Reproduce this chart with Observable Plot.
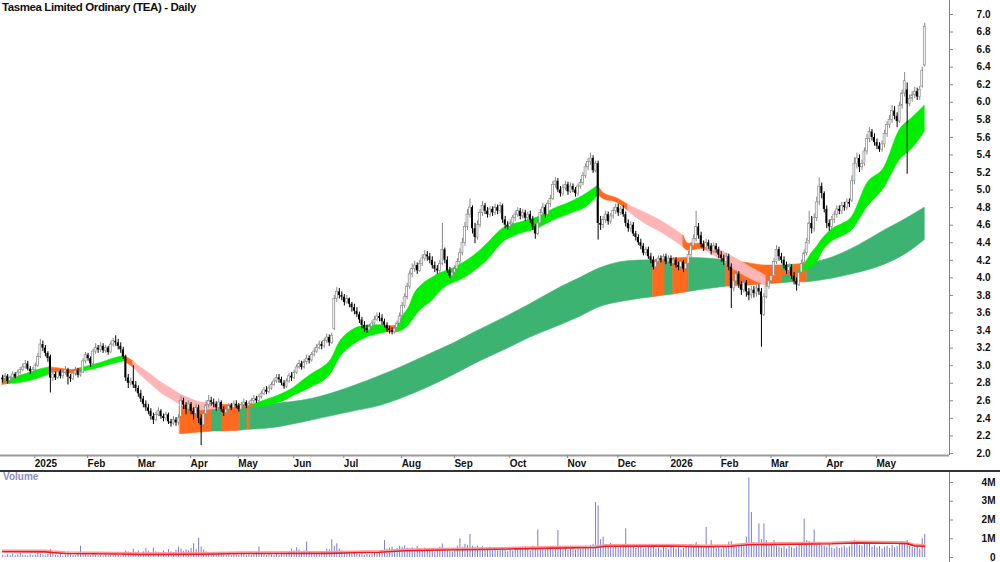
<!DOCTYPE html>
<html><head><meta charset="utf-8">
<script src="https://cdn.jsdelivr.net/npm/d3@7"></script>
<script src="https://cdn.jsdelivr.net/npm/@observablehq/plot@0.6"></script>
<style>
body{margin:0;background:#fff;}
#wrap{position:relative;width:1000px;height:562px;overflow:hidden;background:#fff;font-family:"Liberation Sans",Arial,sans-serif;}
#title{position:absolute;left:2px;top:1px;font-weight:bold;font-size:11.5px;letter-spacing:-0.4px;color:#111;}
#vlabel{position:absolute;left:3px;top:471px;font-weight:bold;font-size:10px;color:#8c8cc8;}
#price svg,#vol svg{display:block;}
#vol{border-top:2px solid #333;}
</style></head>
<body>
<div id="wrap"><div id="price"></div><div id="vol"></div>
<div id="title">Tasmea Limited Ordinary (TEA) - Daily</div><div id="vlabel">Volume</div></div>
<script>
// ---- Daily candles (index = trading day) ----
const opens = [
2.86,2.84,2.88,2.82,2.86,2.90,2.87,2.92,2.95,2.98,
3.02,2.96,2.93,2.95,3.00,3.10,3.24,3.20,3.14,3.10,
2.86,2.90,2.86,2.93,2.88,2.92,2.95,2.87,2.85,2.91,
2.94,2.89,2.92,3.05,3.12,3.08,3.02,3.16,3.20,3.18,
3.22,3.17,3.20,3.15,3.24,3.28,3.26,3.22,3.18,3.10,
2.86,2.80,2.82,2.78,2.74,2.68,2.62,2.56,2.52,2.48,
2.42,2.38,2.44,2.48,2.42,2.40,2.44,2.36,2.34,2.38,
2.35,2.42,2.60,2.55,2.50,2.56,2.48,2.44,2.52,2.40,
2.32,2.45,2.55,2.60,2.58,2.56,2.52,2.58,2.50,2.46,
2.50,2.54,2.52,2.56,2.54,2.50,2.55,2.58,2.54,2.56,
2.60,2.62,2.60,2.64,2.68,2.72,2.70,2.74,2.78,2.82,
2.86,2.84,2.80,2.76,2.82,2.88,2.86,2.92,2.98,3.02,
2.98,3.04,3.08,3.06,3.12,3.16,3.20,3.24,3.22,3.28,
3.32,3.26,3.42,3.76,3.84,3.80,3.78,3.72,3.76,3.70,
3.66,3.62,3.58,3.52,3.46,3.42,3.40,3.44,3.48,3.52,
3.56,3.54,3.50,3.46,3.42,3.40,3.38,3.42,3.48,3.56,
3.68,3.78,3.90,4.04,4.10,4.14,4.08,4.16,4.22,4.26,
4.24,4.20,4.14,4.10,4.08,4.16,4.32,4.20,4.08,4.02,
4.06,4.10,4.18,4.28,4.40,4.58,4.72,4.80,4.56,4.46,
4.60,4.74,4.82,4.76,4.72,4.78,4.74,4.80,4.76,4.82,
4.66,4.60,4.58,4.62,4.68,4.72,4.76,4.70,4.74,4.68,
4.72,4.66,4.58,4.50,4.62,4.74,4.80,4.72,4.84,4.90,
5.06,5.10,5.00,4.96,5.02,5.06,4.98,5.04,5.00,4.96,
5.04,5.08,5.16,5.26,5.32,5.36,5.22,5.30,4.62,4.60,
4.66,4.72,4.64,4.70,4.76,4.80,4.74,4.78,4.72,4.62,
4.56,4.60,4.50,4.46,4.40,4.36,4.28,4.32,4.24,4.20,
4.12,4.18,4.22,4.20,4.24,4.18,4.22,4.16,4.20,4.14,
4.12,4.18,4.10,4.16,4.26,4.36,4.44,4.58,4.48,4.38,
4.34,4.40,4.36,4.30,4.36,4.32,4.26,4.22,4.18,4.24,
4.12,3.88,3.96,4.04,3.92,3.86,3.94,3.84,3.80,3.86,
3.82,3.88,3.84,3.58,3.78,3.90,3.96,4.02,4.18,4.32,
4.24,4.20,4.14,4.08,4.12,4.02,3.96,3.92,4.06,4.16,
4.28,4.42,4.62,4.56,4.68,4.86,5.04,4.96,4.78,4.62,
4.58,4.66,4.72,4.78,4.76,4.82,4.80,4.86,4.88,5.10,
5.30,5.36,5.26,5.30,5.44,5.58,5.66,5.60,5.54,5.50,
5.46,5.52,5.64,5.74,5.80,5.90,5.84,5.78,5.96,6.10,
6.14,5.98,6.04,6.08,6.12,6.06,6.18,6.42];
const highs = [
2.89,2.91,2.90,2.88,2.93,2.92,2.95,2.98,3.02,3.06,
3.05,2.99,2.98,3.03,3.14,3.30,3.28,3.23,3.16,3.12,
2.95,2.93,2.96,2.95,2.95,2.99,2.97,2.90,2.94,2.98,
2.97,2.95,3.08,3.15,3.14,3.10,3.19,3.25,3.23,3.26,
3.25,3.23,3.22,3.27,3.31,3.34,3.30,3.26,3.21,3.12,
2.90,2.86,3.00,2.82,2.77,2.72,2.65,2.60,2.56,2.51,
2.46,2.47,2.52,2.50,2.45,2.47,2.46,2.39,2.42,2.41,
2.44,2.65,2.63,2.58,2.60,2.58,2.52,2.56,2.55,2.44,
2.48,2.60,2.66,2.64,2.62,2.59,2.62,2.60,2.53,2.54,
2.57,2.57,2.60,2.60,2.57,2.58,2.62,2.60,2.59,2.63,
2.66,2.65,2.67,2.71,2.75,2.76,2.77,2.81,2.85,2.90,
2.90,2.87,2.83,2.85,2.91,2.92,2.95,3.01,3.06,3.05,
3.07,3.12,3.11,3.15,3.20,3.24,3.28,3.27,3.31,3.36,
3.35,3.37,3.80,3.89,3.88,3.84,3.81,3.80,3.77,3.72,
3.70,3.66,3.61,3.55,3.50,3.46,3.47,3.51,3.56,3.60,
3.60,3.58,3.53,3.49,3.45,3.43,3.45,3.51,3.60,3.72,
3.82,3.94,4.08,4.16,4.19,4.17,4.20,4.26,4.31,4.30,
4.28,4.24,4.18,4.14,4.20,4.62,4.34,4.24,4.12,4.10,
4.14,4.22,4.33,4.45,4.63,4.78,4.90,4.82,4.62,4.65,
4.78,4.87,4.85,4.80,4.81,4.81,4.84,4.83,4.86,4.84,
4.70,4.64,4.66,4.71,4.76,4.80,4.79,4.78,4.77,4.75,
4.76,4.70,4.61,4.66,4.78,4.85,4.83,4.88,4.94,5.10,
5.14,5.13,5.04,5.06,5.10,5.09,5.08,5.07,5.03,5.07,
5.12,5.20,5.30,5.36,5.42,5.39,5.33,5.33,4.70,4.70,
4.76,4.75,4.73,4.80,4.84,4.84,4.81,4.82,4.75,4.66,
4.64,4.63,4.53,4.49,4.44,4.39,4.35,4.35,4.28,4.24,
4.21,4.25,4.25,4.27,4.27,4.25,4.25,4.23,4.23,4.18,
4.21,4.20,4.19,4.30,4.40,4.49,4.76,4.62,4.52,4.42,
4.44,4.43,4.39,4.40,4.39,4.35,4.30,4.26,4.28,4.27,
4.16,4.00,4.08,4.07,3.96,3.98,3.97,3.88,3.90,3.90,
3.92,3.92,3.88,3.82,3.94,4.00,4.06,4.22,4.37,4.35,
4.28,4.24,4.18,4.16,4.15,4.06,4.00,4.10,4.20,4.32,
4.45,4.76,4.70,4.73,4.92,5.14,5.08,4.98,4.82,4.66,
4.70,4.76,4.82,4.82,4.86,4.86,4.90,4.90,5.16,5.37,
5.42,5.40,5.34,5.48,5.63,5.71,5.69,5.64,5.58,5.54,
5.56,5.68,5.78,5.85,5.96,5.95,5.88,6.00,6.14,6.34,
6.22,6.08,6.12,6.17,6.16,6.18,6.40,6.90];
const lows = [
2.80,2.82,2.79,2.80,2.84,2.85,2.85,2.90,2.93,2.96,
2.94,2.90,2.90,2.93,2.98,3.08,3.16,3.10,3.04,2.69,
2.82,2.83,2.84,2.85,2.85,2.89,2.78,2.81,2.83,2.88,
2.86,2.87,2.91,3.02,3.05,2.98,3.00,3.13,3.14,3.15,
3.14,3.14,3.12,3.14,3.21,3.22,3.18,3.14,3.07,2.82,
2.74,2.77,2.74,2.70,2.64,2.58,2.52,2.48,2.44,2.38,
2.33,2.36,2.42,2.39,2.36,2.37,2.33,2.30,2.32,2.31,
2.32,2.40,2.50,2.44,2.47,2.44,2.38,2.40,2.34,2.09,
2.28,2.42,2.52,2.54,2.52,2.48,2.49,2.47,2.42,2.44,
2.47,2.49,2.50,2.51,2.47,2.48,2.52,2.51,2.52,2.54,
2.57,2.57,2.58,2.62,2.66,2.67,2.68,2.72,2.76,2.80,
2.80,2.77,2.73,2.74,2.80,2.82,2.84,2.90,2.96,2.95,
2.96,3.01,3.02,3.04,3.10,3.14,3.18,3.18,3.20,3.25,
3.22,3.24,3.40,3.72,3.76,3.74,3.68,3.70,3.66,3.61,
3.58,3.55,3.48,3.42,3.38,3.37,3.38,3.42,3.46,3.50,
3.50,3.46,3.43,3.38,3.36,3.35,3.36,3.40,3.46,3.54,
3.65,3.75,3.87,4.00,4.06,4.04,4.06,4.13,4.19,4.19,
4.16,4.10,4.06,4.04,4.05,4.14,4.16,4.05,3.99,3.99,
4.03,4.07,4.15,4.25,4.36,4.54,4.68,4.50,4.39,4.43,
4.57,4.70,4.72,4.68,4.69,4.70,4.71,4.72,4.73,4.62,
4.56,4.54,4.55,4.59,4.64,4.69,4.66,4.67,4.64,4.65,
4.62,4.54,4.44,4.48,4.60,4.70,4.68,4.70,4.80,4.88,
5.02,4.97,4.92,4.93,4.99,4.94,4.96,4.97,4.92,4.93,
5.01,5.05,5.13,5.22,5.28,5.19,5.20,4.43,4.54,4.56,
4.62,4.60,4.61,4.67,4.72,4.70,4.71,4.69,4.58,4.52,
4.52,4.47,4.42,4.37,4.32,4.25,4.25,4.21,4.16,4.09,
4.09,4.15,4.17,4.17,4.15,4.15,4.13,4.13,4.11,4.08,
4.08,4.06,4.08,4.14,4.23,4.33,4.41,4.44,4.34,4.30,
4.31,4.32,4.26,4.28,4.28,4.22,4.18,4.14,4.15,4.08,
3.65,3.84,3.92,3.88,3.80,3.83,3.78,3.74,3.76,3.77,
3.78,3.80,3.21,3.56,3.76,3.87,3.93,4.00,4.15,4.19,
4.16,4.10,4.04,4.04,3.98,3.92,3.85,3.90,4.03,4.13,
4.25,4.38,4.50,4.52,4.64,4.82,4.90,4.74,4.56,4.53,
4.54,4.62,4.68,4.72,4.72,4.76,4.77,4.80,4.86,5.06,
5.24,5.20,5.22,5.27,5.40,5.54,5.56,5.50,5.46,5.43,
5.43,5.48,5.60,5.70,5.76,5.80,5.71,5.76,5.92,6.06,
5.18,5.95,6.00,6.04,6.02,6.02,6.16,6.40];
const closes = [
2.84,2.88,2.82,2.86,2.90,2.87,2.92,2.95,2.98,3.02,
2.96,2.93,2.95,3.00,3.10,3.24,3.20,3.14,3.08,2.86,
2.90,2.86,2.93,2.88,2.92,2.95,2.87,2.85,2.91,2.94,
2.89,2.92,3.05,3.12,3.08,3.02,3.16,3.20,3.18,3.22,
3.17,3.20,3.15,3.24,3.28,3.26,3.22,3.18,3.10,2.86,
2.80,2.82,2.78,2.74,2.68,2.62,2.56,2.52,2.48,2.42,
2.38,2.44,2.48,2.42,2.40,2.44,2.36,2.34,2.38,2.35,
2.40,2.60,2.55,2.50,2.56,2.48,2.44,2.52,2.40,2.32,
2.45,2.55,2.60,2.58,2.56,2.52,2.58,2.50,2.46,2.50,
2.54,2.52,2.56,2.54,2.50,2.55,2.58,2.54,2.56,2.60,
2.62,2.60,2.64,2.68,2.72,2.70,2.74,2.78,2.82,2.86,
2.84,2.80,2.76,2.82,2.88,2.86,2.92,2.98,3.02,2.98,
3.04,3.08,3.06,3.12,3.16,3.20,3.24,3.22,3.28,3.32,
3.26,3.34,3.76,3.84,3.80,3.78,3.72,3.76,3.70,3.66,
3.62,3.58,3.52,3.46,3.42,3.40,3.44,3.48,3.52,3.56,
3.54,3.50,3.46,3.42,3.40,3.38,3.42,3.48,3.56,3.68,
3.78,3.90,4.04,4.10,4.14,4.08,4.16,4.22,4.26,4.24,
4.20,4.14,4.10,4.08,4.16,4.32,4.20,4.08,4.02,4.06,
4.10,4.18,4.28,4.40,4.58,4.72,4.80,4.56,4.46,4.60,
4.74,4.82,4.76,4.72,4.78,4.74,4.80,4.76,4.82,4.66,
4.60,4.58,4.62,4.68,4.72,4.76,4.70,4.74,4.68,4.72,
4.66,4.58,4.50,4.62,4.74,4.80,4.72,4.84,4.90,5.06,
5.10,5.00,4.96,5.02,5.06,4.98,5.04,5.00,4.96,5.04,
5.08,5.16,5.26,5.32,5.36,5.22,5.30,4.62,4.60,4.66,
4.72,4.64,4.70,4.76,4.80,4.74,4.78,4.72,4.62,4.56,
4.60,4.50,4.46,4.40,4.36,4.28,4.32,4.24,4.20,4.12,
4.18,4.22,4.20,4.24,4.18,4.22,4.16,4.20,4.14,4.12,
4.18,4.10,4.16,4.26,4.36,4.44,4.58,4.48,4.38,4.34,
4.40,4.36,4.30,4.36,4.32,4.26,4.22,4.18,4.24,4.12,
3.88,3.96,4.04,3.92,3.86,3.94,3.84,3.80,3.86,3.82,
3.88,3.84,3.58,3.78,3.90,3.96,4.02,4.18,4.32,4.24,
4.20,4.14,4.08,4.12,4.02,3.96,3.92,4.06,4.16,4.28,
4.40,4.62,4.56,4.68,4.86,5.04,4.96,4.78,4.62,4.58,
4.66,4.72,4.78,4.76,4.82,4.80,4.86,4.84,5.10,5.30,
5.36,5.26,5.30,5.44,5.58,5.66,5.60,5.54,5.50,5.46,
5.52,5.64,5.74,5.80,5.90,5.84,5.78,5.96,6.10,6.24,
5.98,6.04,6.08,6.12,6.06,6.14,6.36,6.86];
// volume, millions of shares
const volumes = [
0.12,0.08,0.15,0.10,0.18,0.09,0.14,0.22,0.12,0.10,
0.08,0.14,0.10,0.13,0.25,0.18,0.12,0.09,0.16,0.42,
0.20,0.12,0.10,0.15,0.08,0.12,0.30,0.14,0.10,0.09,
0.18,0.60,0.25,0.15,0.12,0.10,0.20,0.14,0.09,0.11,
0.08,0.12,0.10,0.15,0.18,0.22,0.12,0.08,0.20,0.35,
0.30,0.22,0.45,0.28,0.35,0.20,0.30,0.48,0.33,0.25,
0.50,0.30,0.28,0.22,0.35,0.20,0.42,0.30,0.25,0.38,
0.55,0.45,0.32,0.40,0.35,0.48,0.73,0.42,1.03,0.55,
0.40,0.30,0.22,0.18,0.25,0.15,0.20,0.28,0.18,0.12,
0.15,0.10,0.20,0.14,0.12,0.18,0.22,0.10,0.15,0.12,
0.18,0.25,0.56,0.20,0.15,0.12,0.18,0.14,0.10,0.16,
0.12,0.20,0.15,0.22,0.30,0.45,0.35,0.52,0.40,0.28,
0.35,0.82,0.30,0.25,0.18,0.22,0.15,0.28,0.32,0.45,
0.40,0.95,0.60,0.73,0.45,0.35,0.28,0.30,0.25,0.20,
0.22,0.18,0.15,0.20,0.12,0.16,0.14,0.18,0.22,0.25,
0.30,0.35,0.90,0.45,0.50,0.55,0.40,0.48,0.60,0.55,
0.62,0.50,0.45,0.52,0.40,0.58,0.45,0.38,0.50,0.42,
0.35,0.45,0.30,0.40,0.55,0.72,0.40,0.35,0.30,0.28,
0.35,0.60,1.00,0.55,0.70,0.65,1.23,0.60,0.55,0.62,
0.50,0.58,0.45,0.40,0.55,0.42,0.48,0.35,0.40,0.45,
0.38,0.30,0.42,0.35,0.50,0.40,0.45,0.38,0.55,0.42,
0.35,0.60,0.48,1.47,0.50,0.45,0.40,0.52,0.55,0.60,
0.48,1.44,0.50,0.42,0.55,0.38,0.45,0.50,0.40,0.48,
0.45,0.52,0.60,0.55,0.65,0.70,2.93,2.75,0.95,1.08,
0.70,0.60,0.75,0.55,0.62,0.50,0.58,0.65,1.53,0.70,
0.55,0.60,0.48,0.52,0.62,0.45,0.50,0.58,0.55,0.70,
0.45,0.50,0.40,0.55,0.48,0.42,0.60,0.50,0.45,0.52,
0.40,0.48,0.55,0.62,0.70,0.58,0.80,0.65,0.55,0.50,
1.61,0.60,0.90,0.55,0.48,0.52,0.45,0.60,0.55,0.82,
0.85,0.60,0.55,0.70,0.65,0.58,1.09,4.24,2.40,0.80,
0.75,1.79,0.95,1.79,0.90,0.70,0.65,0.90,0.60,0.55,
0.50,0.58,0.45,0.60,0.52,0.48,0.55,0.65,0.80,2.05,
0.90,0.85,0.75,1.47,0.70,0.80,0.65,0.60,0.55,0.70,
0.50,0.45,0.55,0.48,0.52,0.60,0.50,0.58,0.85,0.90,
0.70,0.65,0.60,0.75,0.80,0.70,0.55,0.62,0.50,0.58,
0.45,0.55,0.60,0.48,0.65,0.52,0.58,0.70,0.82,0.75,
0.90,0.60,0.55,0.50,0.62,0.45,1.00,1.23];
// volume moving average (red line), read at sample days
const maIdx = [0,17,20,25,46,55,80,95,130,140,150,160,175,190,205,220,236,240,265,280,290,297,310,330,340,355,360,363,367];
const maVal = [0.31,0.30,0.26,0.21,0.19,0.16,0.17,0.21,0.22,0.25,0.28,0.36,0.40,0.43,0.46,0.50,0.53,0.60,0.61,0.57,0.60,0.68,0.70,0.73,0.78,0.76,0.74,0.62,0.60];

// short-term ribbon (G = rising, O = neutral, P = falling), read at sample days
const shortIdx = [0,2,6,10,14,18.5,22,27,31,35,39,44,48.5,52,55,59,63,67,71,75,79,83,86,90,95,100,104,109,113,116,120,124,127,131,134,138,142,147,151,153,157,159,162,164,167,171,174,177,181,184,188,193,199,206,213,219,226,233,237,239,245,249,255,262,269,271,273,278,280,286,293,299,304,307,312,317,319,322,324,326,331,334,338,344,351,357,362,367];
const shortLo = [2.78,2.79,2.80,2.82,2.85,2.90,2.93,2.91,2.93,2.95,2.98,3.02,3.05,2.98,2.89,2.79,2.69,2.62,2.55,2.52,2.49,2.50,2.50,2.51,2.52,2.52,2.54,2.57,2.61,2.66,2.71,2.77,2.81,2.92,3.08,3.20,3.28,3.34,3.37,3.38,3.38,3.40,3.47,3.55,3.65,3.74,3.84,3.91,3.96,4.00,4.08,4.20,4.40,4.50,4.56,4.65,4.73,4.82,4.94,4.90,4.85,4.76,4.63,4.52,4.39,4.35,4.31,4.33,4.31,4.20,4.06,3.97,3.91,4.04,4.03,4.04,4.08,4.12,4.17,4.28,4.43,4.47,4.54,4.80,5.03,5.34,5.47,5.66];
const shortHi = [2.85,2.86,2.88,2.91,2.95,2.98,2.97,2.95,2.97,3.00,3.03,3.08,3.11,3.05,2.98,2.90,2.81,2.74,2.67,2.62,2.58,2.57,2.56,2.55,2.55,2.56,2.60,2.65,2.70,2.75,2.84,2.92,2.97,3.08,3.26,3.38,3.44,3.46,3.46,3.45,3.45,3.55,3.68,3.82,3.92,4.00,4.05,4.08,4.13,4.18,4.26,4.39,4.56,4.63,4.69,4.78,4.86,4.97,5.05,4.97,4.90,4.83,4.75,4.65,4.52,4.48,4.39,4.39,4.38,4.31,4.20,4.10,4.02,4.09,4.08,4.10,4.15,4.28,4.35,4.43,4.57,4.61,4.69,5.07,5.26,5.68,5.82,5.96];
const shortCol = ["O","G","G","G","G","O","O","O","G","G","G","G","O","P","P","P","P","P","P","P","P","P","O","O","O","G","G","G","G","G","G","G","G","G","G","G","G","G","G","O","G","G","G","G","G","G","G","G","G","G","G","G","G","G","G","G","G","G","O","O","O","P","P","P","P","O","O","O","P","P","P","P","O","O","O","G","G","G","G","G","G","G","G","G","G","G","G","G"];

// long-term ribbon (G = trending, O = contested)
const longIdx = [70.6,83.5,87.5,94.5,97.5,98.5,110,119,127,140,150,160,170,180,188,200,210,222,230,237,249,258.8,263.8,266.9,273.1,280,288,296,304,310.3,314.8,320.2,330,338,351,360,367];
const longLo = [2.22,2.25,2.25,2.26,2.27,2.27,2.30,2.35,2.40,2.48,2.54,2.64,2.76,2.90,3.02,3.18,3.32,3.46,3.56,3.66,3.74,3.78,3.80,3.81,3.84,3.87,3.90,3.91,3.93,3.94,3.95,3.95,3.99,4.04,4.15,4.28,4.43];
const longHi = [2.53,2.54,2.54,2.54,2.54,2.54,2.57,2.60,2.65,2.77,2.88,3.00,3.13,3.26,3.38,3.55,3.70,3.89,4.00,4.10,4.19,4.20,4.21,4.22,4.23,4.22,4.20,4.17,4.14,4.14,4.15,4.16,4.23,4.33,4.54,4.68,4.80];
const longCol = ["O","G","O","G","O","G","G","G","G","G","G","G","G","G","G","G","G","G","G","G","G","O","G","O","G","G","O","O","O","G","O","G","G","G","G","G","G"];

// axes
const monthIdx = [12,33,53,74,93,115,135,158,179,201,224,244,265,285,305,327,347];
const monthLabels = ["2025","Feb","Mar","Apr","May","Jun","Jul","Aug","Sep","Oct","Nov","Dec","2026","Feb","Mar","Apr","May"];
const priceTicks = [2.0,2.2,2.4,2.6,2.8,3.0,3.2,3.4,3.6,3.8,4.0,4.2,4.4,4.6,4.8,5.0,5.2,5.4,5.6,5.8,6.0,6.2,6.4,6.6,6.8,7.0];
const volTicks = [0,1,2,3,4];
const volTickLabels = ["0","1M","2M","3M","4M"];

// ---- build ----
const N = closes.length;
[opens, highs, lows, volumes].forEach((a, k) => { if (a.length !== N) throw new Error("length mismatch " + k + ": " + a.length + " vs " + N); });
if (shortLo.length !== shortIdx.length || shortHi.length !== shortIdx.length || shortCol.length !== shortIdx.length) throw new Error("short ribbon length");
if (longLo.length !== longIdx.length || longHi.length !== longIdx.length || longCol.length !== longIdx.length) throw new Error("long ribbon length");

const candles = d3.range(N).map(i => ({i, o: opens[i], h: highs[i], l: lows[i], c: closes[i], up: closes[i] >= opens[i]}));
const upC = candles.filter(d => d.up), dnC = candles.filter(d => !d.up);
const shortPal = {G: "#00ee00", O: "#ff6a1f", P: "#ffb5b5"};
const longPal = {G: "#3cb371", O: "#ff6a1f"};

function ribbonRows(idx, lo, hi, col, pal) {
  const rows = []; let seg = 0;
  for (let k = 0; k < idx.length - 1; k++) {
    const isNew = k === 0 || col[k] !== col[k - 1];
    if (k > 0 && isNew) seg++;
    const c = pal[col[k]];
    if (isNew) rows.push({i: idx[k], lo: lo[k], hi: hi[k], seg, color: c});
    rows.push({i: idx[k + 1], lo: lo[k + 1], hi: hi[k + 1], seg, color: c});
  }
  return rows;
}
const shortRows = ribbonRows(shortIdx, shortLo, shortHi, shortCol, shortPal);
const longRows = ribbonRows(longIdx, longLo, longHi, longCol, longPal);
const labelByIdx = new Map(monthIdx.map((d, k) => [d, monthLabels[k]]));
const xDomain = [-0.856, 376.85];
const FONT = "'Liberation Sans', Arial, sans-serif";

const bodyY2 = d => (Math.abs(d.o - d.c) < 0.008 ? Math.max(d.o, d.c) + 0.008 : Math.max(d.o, d.c));

const price = Plot.plot({
  width: 1000, height: 470,
  marginLeft: 0, marginRight: 51, marginTop: 0, marginBottom: 15,
  x: {domain: xDomain, axis: null, label: null},
  y: {domain: [1.977, 7.159], axis: null, label: null},
  color: {type: "identity"},
  style: {fontFamily: FONT, fontWeight: "bold", background: "white", overflow: "visible"},
  marks: [
    Plot.areaY(longRows, {x: "i", y1: "lo", y2: "hi", z: "seg", fill: "color", stroke: "color", strokeWidth: 0.6, curve: "monotone-x"}),
    Plot.areaY(shortRows, {x: "i", y1: "lo", y2: "hi", z: "seg", fill: "color", stroke: "color", strokeWidth: 0.6, curve: "monotone-x"}),
    Plot.ruleX(upC, {x: "i", y1: "l", y2: "h", stroke: "#8a8a8a", strokeWidth: 1}),
    Plot.rect(upC, {x1: d => d.i - 0.38, x2: d => d.i + 0.38, y1: d => Math.min(d.o, d.c), y2: bodyY2, fill: "#fff", stroke: "#8a8a8a", strokeWidth: 0.7}),
    Plot.ruleX(dnC, {x: "i", y1: "l", y2: "h", stroke: "#000", strokeWidth: 1}),
    Plot.rect(dnC, {x1: d => d.i - 0.38, x2: d => d.i + 0.38, y1: d => Math.min(d.o, d.c), y2: bodyY2, fill: "#000"}),
    Plot.ruleY([1.977], {stroke: "#9a9a9a", strokeWidth: 2}),
    Plot.ruleX([xDomain[1]], {stroke: "#808080", strokeWidth: 1}),
    Plot.axisY({anchor: "right", label: null, ticks: priceTicks, tickFormat: d => d.toFixed(1), tickSize: 3, tickPadding: 38, textAnchor: "end", fontSize: 10, stroke: "#888", fill: "#111"}),
    Plot.axisX({anchor: "bottom", label: null, ticks: monthIdx, tickFormat: d => labelByIdx.get(d), tickSize: 3, tickPadding: 1, textAnchor: "start", dx: 2, fontSize: 10, stroke: "#888", fill: "#111"})
  ]
});
document.getElementById("price").appendChild(price);

const volRows = d3.range(N).map(i => ({i, v: volumes[i]}));
const maRows = maIdx.map((d, k) => ({i: d, v: maVal[k]}));
const volLabel = new Map(volTicks.map((d, k) => [d, volTickLabels[k]]));
const vol = Plot.plot({
  width: 1000, height: 90,
  marginLeft: 0, marginRight: 51, marginTop: 0, marginBottom: 0,
  x: {domain: xDomain, axis: null, label: null},
  y: {domain: [-0.267, 4.533], axis: null, label: null},
  style: {fontFamily: FONT, fontWeight: "bold", background: "white", overflow: "visible"},
  marks: [
    Plot.ruleX(volRows, {x: "i", y1: 0, y2: "v", stroke: "#7b7bd6", strokeWidth: 1}),
    Plot.line(maRows, {x: "i", y: "v", stroke: "#ff9a9a", strokeWidth: 1.5, dy: -1.5}),
    Plot.line(maRows, {x: "i", y: "v", stroke: "#ee1c1c", strokeWidth: 1.6}),
    Plot.ruleX([xDomain[1]], {stroke: "#808080", strokeWidth: 1}),
    Plot.axisY({anchor: "right", label: null, ticks: volTicks, tickFormat: d => volLabel.get(d), tickSize: 3, tickPadding: 43, textAnchor: "end", fontSize: 10, stroke: "#888", fill: "#111"})
  ]
});
document.getElementById("vol").appendChild(vol);
</script>
</body></html>
